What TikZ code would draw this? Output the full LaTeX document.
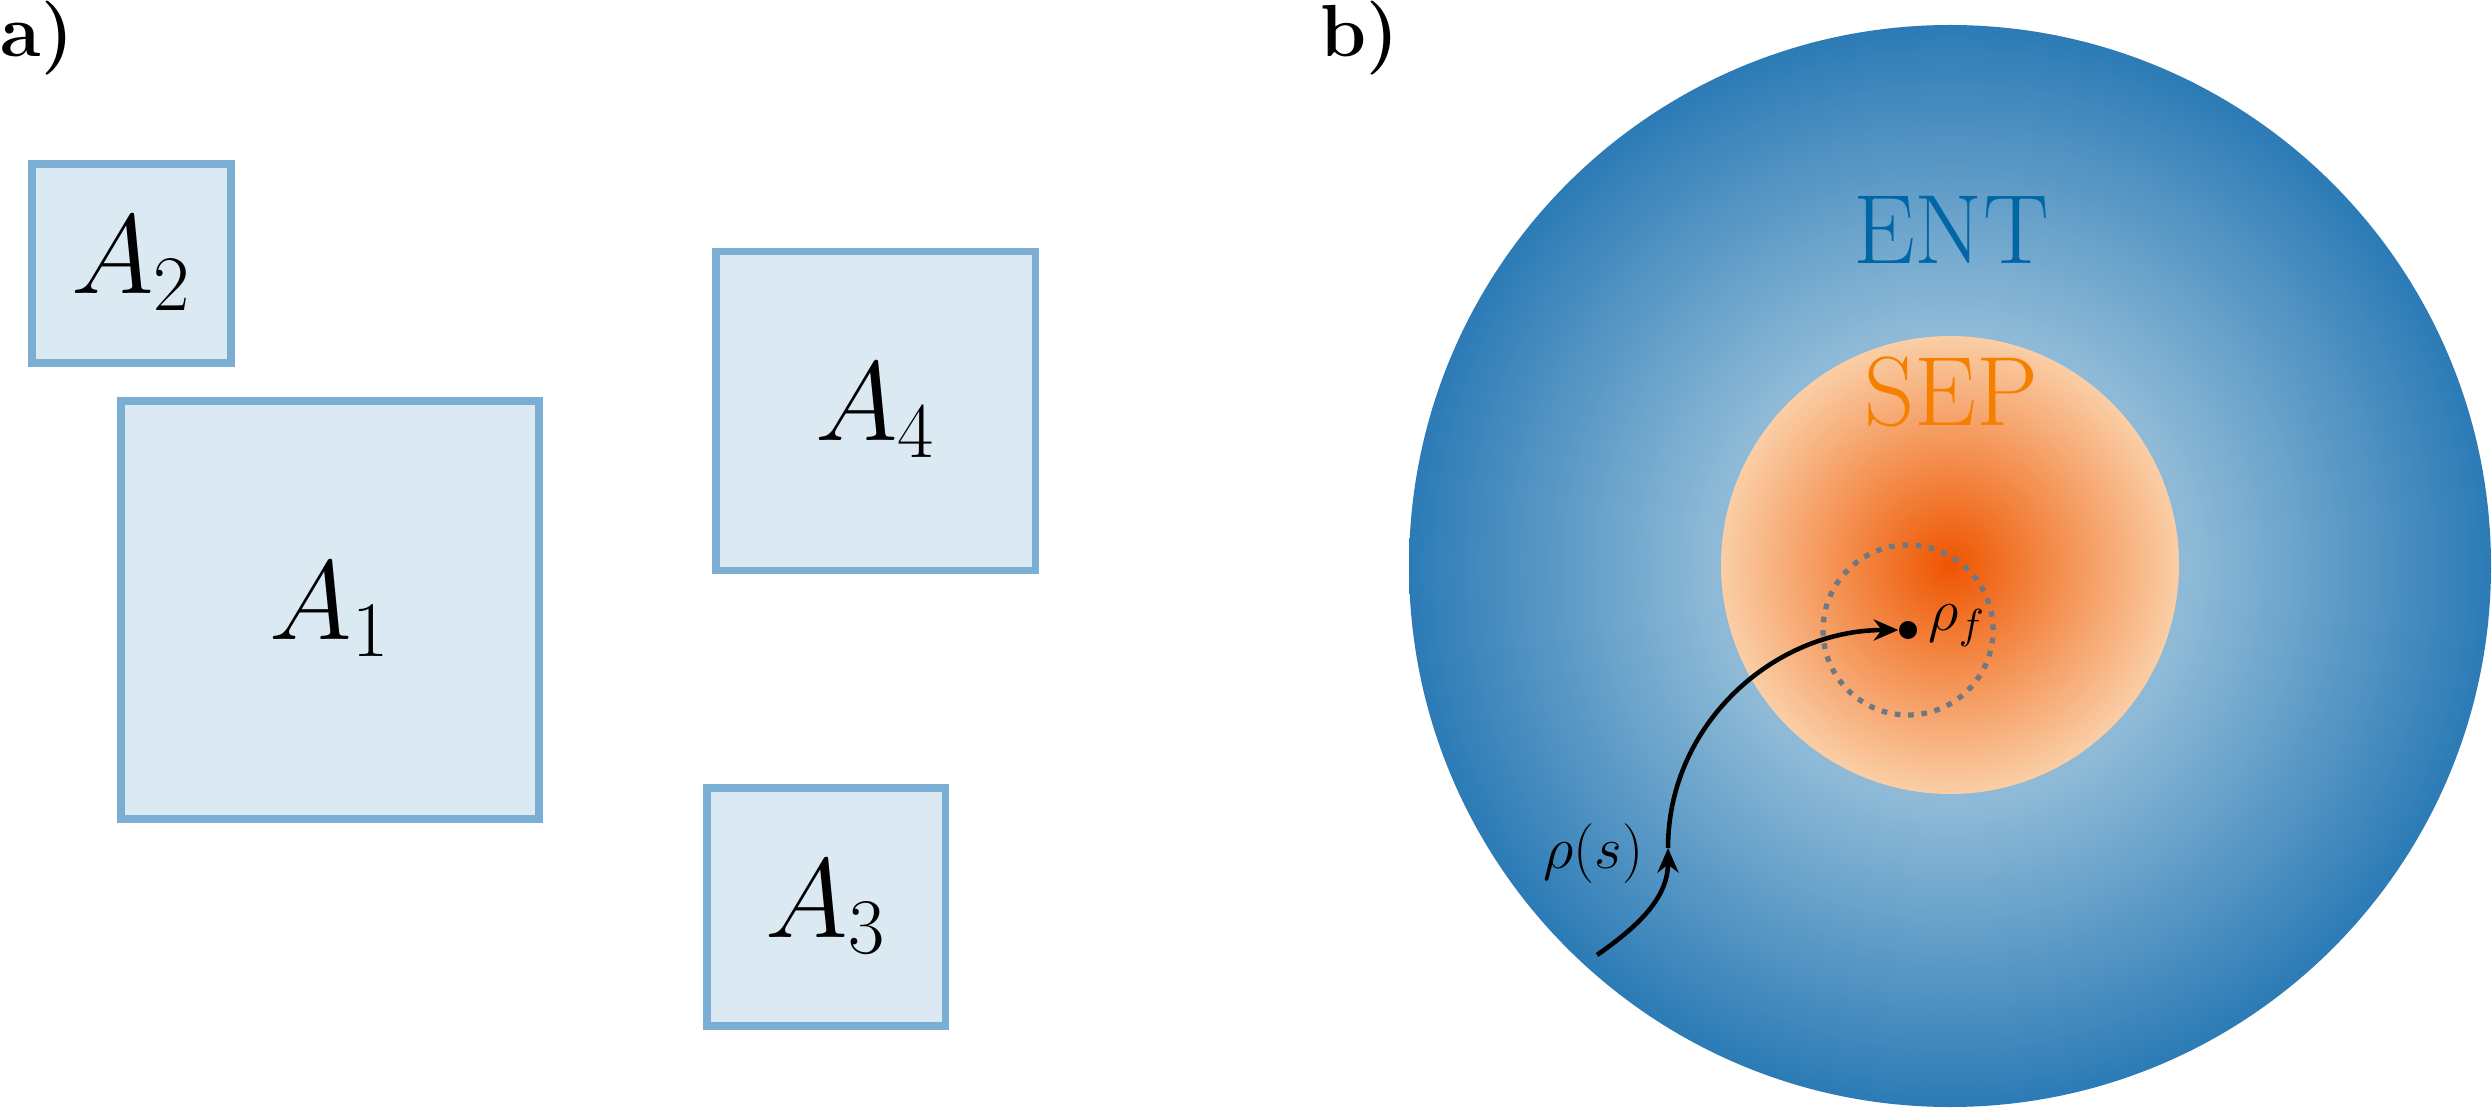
\RequirePackage{fix-cm}
\documentclass[tikz,border=0pt]{standalone}
\usepackage{amsmath}
\usetikzlibrary{arrows.meta}

\definecolor{boxfill}{RGB}{219,233,243}
\definecolor{boxline}{RGB}{122,175,211}
\definecolor{entdark}{RGB}{44,123,182}
\definecolor{entlight}{RGB}{142,186,215}
\definecolor{entblue}{RGB}{0,102,166}
\definecolor{sepcore}{RGB}{238,85,0}
\definecolor{sepedge}{RGB}{250,206,166}
\definecolor{sepor}{RGB}{245,128,0}
\definecolor{dotgray}{RGB}{110,120,130}

\pgfdeclareradialshading{entshade}{\pgfpoint{0bp}{0bp}}{color(0bp)=(entlight); color(11bp)=(entlight); color(25bp)=(entdark); color(50bp)=(entdark)}
\pgfdeclareradialshading{sepshade}{\pgfpoint{0bp}{0bp}}{color(0bp)=(sepcore); color(25bp)=(sepedge); color(50bp)=(sepedge)}

\begin{document}
\begin{tikzpicture}[
  regbox/.style={draw=boxline, fill=boxfill, line width=2pt, minimum size=#1, inner sep=0pt, font=\fontsize{32}{38}\selectfont},
  panel/.style={anchor=north west, inner sep=0pt, font=\fontsize{21}{25}\selectfont\bfseries},
  setname/.style={inner sep=0pt, font=\fontsize{28}{34}\selectfont},
  flow/.style={line width=1.3pt, -{Stealth[length=7pt,width=6pt]}}]
\useasboundingbox (0,0) rectangle (24.92,11.08);

% panel a
\node[panel] (pa) at (0,11.08) {a)};
\node[regbox=4.18cm] (A1) at (3.30,4.98) {$A_1$};
\node[regbox=1.99cm] (A2) at (1.315,8.445) {$A_2$};
\node[regbox=2.38cm] (A3) at (8.26,2.01) {$A_3$};
\node[regbox=3.19cm] (A4) at (8.755,6.97) {$A_4$};

% panel b
\node[panel] (pb) at (13.20,11.08) {b)};
\shade[shading=entshade] (19.50,5.42) circle (5.41);
\shade[shading=sepshade] (19.50,5.43) circle (2.29);
\node[setname, text=entblue] (ent) at (19.51,8.78) {ENT};
\node[setname, text=sepor] (sep) at (19.51,7.16) {SEP};

\node[circle, fill=black, inner sep=0pt, minimum size=0.18cm] (rhof) at (19.08,4.78) {};
\draw[dotgray, line width=1.5pt, dash pattern=on 1.6pt off 2.2pt] (rhof.center) circle (0.85);
\node[anchor=base west, inner sep=0pt, font=\fontsize{17}{20}\selectfont] (rhoflab) at (19.28,4.78) {$\rho_f$};

\coordinate (start) at (15.97,1.53);
\coordinate (turn) at (16.68,2.60);
\draw[flow] (start) to[out=35,in=-90] (turn);
\draw[flow] (turn) to[out=90,in=180] (rhof);
\node[anchor=base east, inner sep=0pt, font=\fontsize{17}{20}\selectfont] (rhos) at (16.44,2.40) {$\rho(s)$};
\end{tikzpicture}
\end{document}
